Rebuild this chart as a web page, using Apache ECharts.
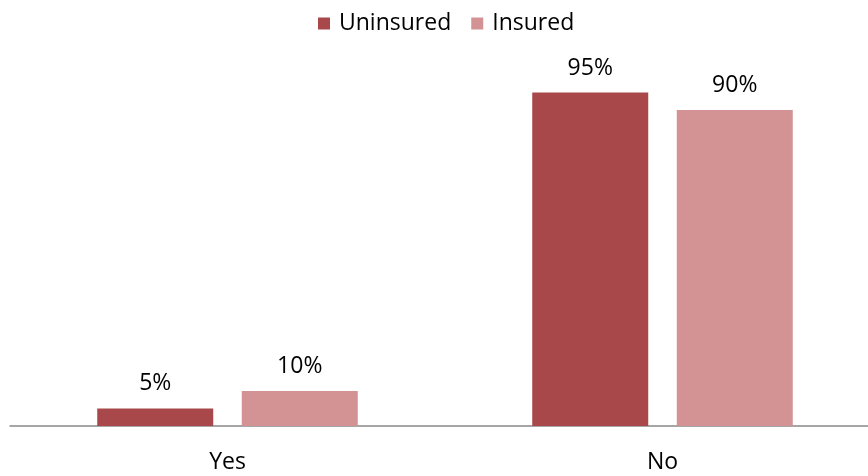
<!DOCTYPE html>
<html>
<head>
<meta charset="utf-8">
<style>html,body{margin:0;padding:0;background:#fff;}#c{width:868px;height:476px;}</style>
<script src="https://cdn.jsdelivr.net/npm/echarts@6/dist/echarts.min.js"></script>
</head>
<body>
<div id="c"></div>
<script>
var categories = ['Yes', 'No'];
var uninsured = [5, 95];
var insured = [10, 90];
var seriesNames = ['Uninsured', 'Insured'];

var chart = echarts.init(document.getElementById('c'), null, {renderer: 'canvas'});
var font = '"Open Sans", "Noto Sans", sans-serif';
var labelCfg = {
  show: true, position: 'top', distance: 13,
  formatter: function (p) { return p.value + '%'; },
  fontFamily: font, fontSize: 23, color: '#000'
};
chart.setOption({
  animation: false,
  textStyle: {fontFamily: font},
  legend: {
    data: seriesNames,
    left: 318, top: 12, padding: 0,
    icon: 'rect', itemWidth: 12, itemHeight: 12, itemGap: 20,
    textStyle: {fontFamily: font, fontSize: 23, color: '#000', padding: [0, 0, 0, 4]}
  },
  grid: {left: 10, width: 870, top: 75, bottom: 50, containLabel: false, outerBoundsMode: 'none'},
  xAxis: {
    type: 'category', data: categories,
    axisLine: {lineStyle: {color: '#898989', width: 1.5}},
    axisTick: {show: false},
    axisLabel: {fontFamily: font, fontSize: 23, color: '#000', margin: 25}
  },
  yAxis: {type: 'value', min: 0, max: 100, show: false, splitLine: {show: false}},
  series: [
    {name: seriesNames[0], type: 'bar', data: uninsured, barWidth: 116, barGap: '24.6%',
     itemStyle: {color: '#A9484A'}, label: labelCfg},
    {name: seriesNames[1], type: 'bar', data: insured, barWidth: 116,
     itemStyle: {color: '#D39293'}, label: labelCfg}
  ]
});
</script>
</body>
</html>
